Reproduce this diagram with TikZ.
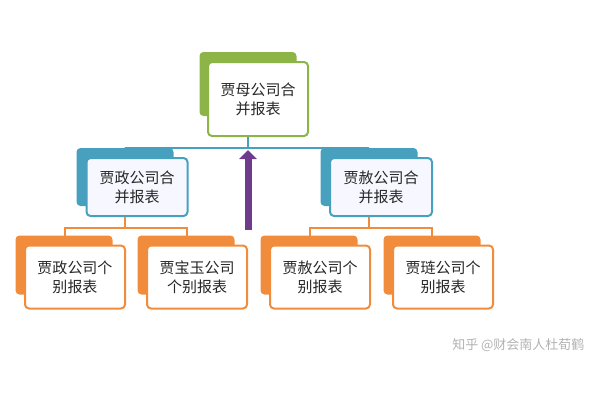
\documentclass[tikz,border=0pt]{standalone}
\usepackage{fontspec}
\newfontfamily\cjk{Noto Sans CJK SC}
\usetikzlibrary{positioning,arrows.meta}
\definecolor{grn}{RGB}{140,180,70}
\definecolor{teal}{RGB}{70,160,190}
\definecolor{orng}{RGB}{240,140,60}
\definecolor{purp}{RGB}{110,60,140}
\begin{document}
\begin{tikzpicture}[x=1pt,y=-1pt]
    % Define styles for boxes and lines
    \tikzset{back/.style={rectangle, rounded corners=4pt, minimum width=97pt, minimum height=62pt, fill=#1, draw=none}}
    \tikzset{front/.style={rectangle, rounded corners=4pt, minimum width=100pt, minimum height=72pt, fill=white, draw=#1, line width=2pt, align=center, font=\cjk\fontsize{15}{19}\selectfont, text=black!85}}
    \tikzset{link/.style={draw=#1, line width=1.6pt}}
    \useasboundingbox (0,0) rectangle (600,400);
    % Top
    \node (topback) [back=grn, minimum height=64pt] at (248,84) {};
    \node (top) [front=grn, minimum width=100pt, minimum height=74pt] at (258,99) {贾母公司合\\并报表};
    % Middle
    \node (zhengback) [back=teal, minimum height=58pt] at (125,177) {};
    \node (zheng) [front=teal, fill=blue!3, minimum width=101pt, minimum height=58pt] at (137,187) {贾政公司合\\并报表};
    \node (sheback) [back=teal, minimum height=58pt] at (369,177) {};
    \node (she) [front=teal, fill=blue!3, minimum width=102pt, minimum height=58pt] at (381,187) {贾赦公司合\\并报表};
    % Bottom
    \foreach \n/\x/\t in {zhengsolo/75/{贾政公司个\\别报表}, baoyu/197/{贾宝玉公司\\个别报表}, shesolo/320/{贾赦公司个\\别报表}, lian/443/{贾琏公司个\\别报表}}{
        \node (\n back) [back=orng, minimum height=59pt] at (\x-11,265) {};
        \node (\n) [front=orng, minimum width=100pt, minimum height=63pt] at (\x,277) {\t};
    }
    % Connectors
    \draw [link=teal] (top.south -| 248,0) -- (248,148) -| (zhengback.north);
    \draw [link=teal] (248,148) -| (sheback.north);
    \draw [link=orng] (zheng.south -| zhengback) -- (125,228) -| (zhengsoloback.north -| 65,0) -- (65,236);
    \draw [link=orng] (125,228) -| (187,236);
    \draw [link=orng] (she.south -| sheback) -- (369,228) -| (310,236);
    \draw [link=orng] (369,228) -| (432,236);
    % Arrow
    \coordinate (arrowfoot) at (248,230);
    \coordinate (arrowtip) at (248,150);
    \draw [purp, line width=7pt, -{Triangle[length=9pt, width=17pt]}] (arrowfoot) -- (arrowtip);
    % Watermark
    \node (mark) [anchor=east, text=black!30, font=\cjk\fontsize{13}{15}\selectfont] at (588,345) {知乎 @财会南人杜荀鹤};
\end{tikzpicture}
\end{document}
